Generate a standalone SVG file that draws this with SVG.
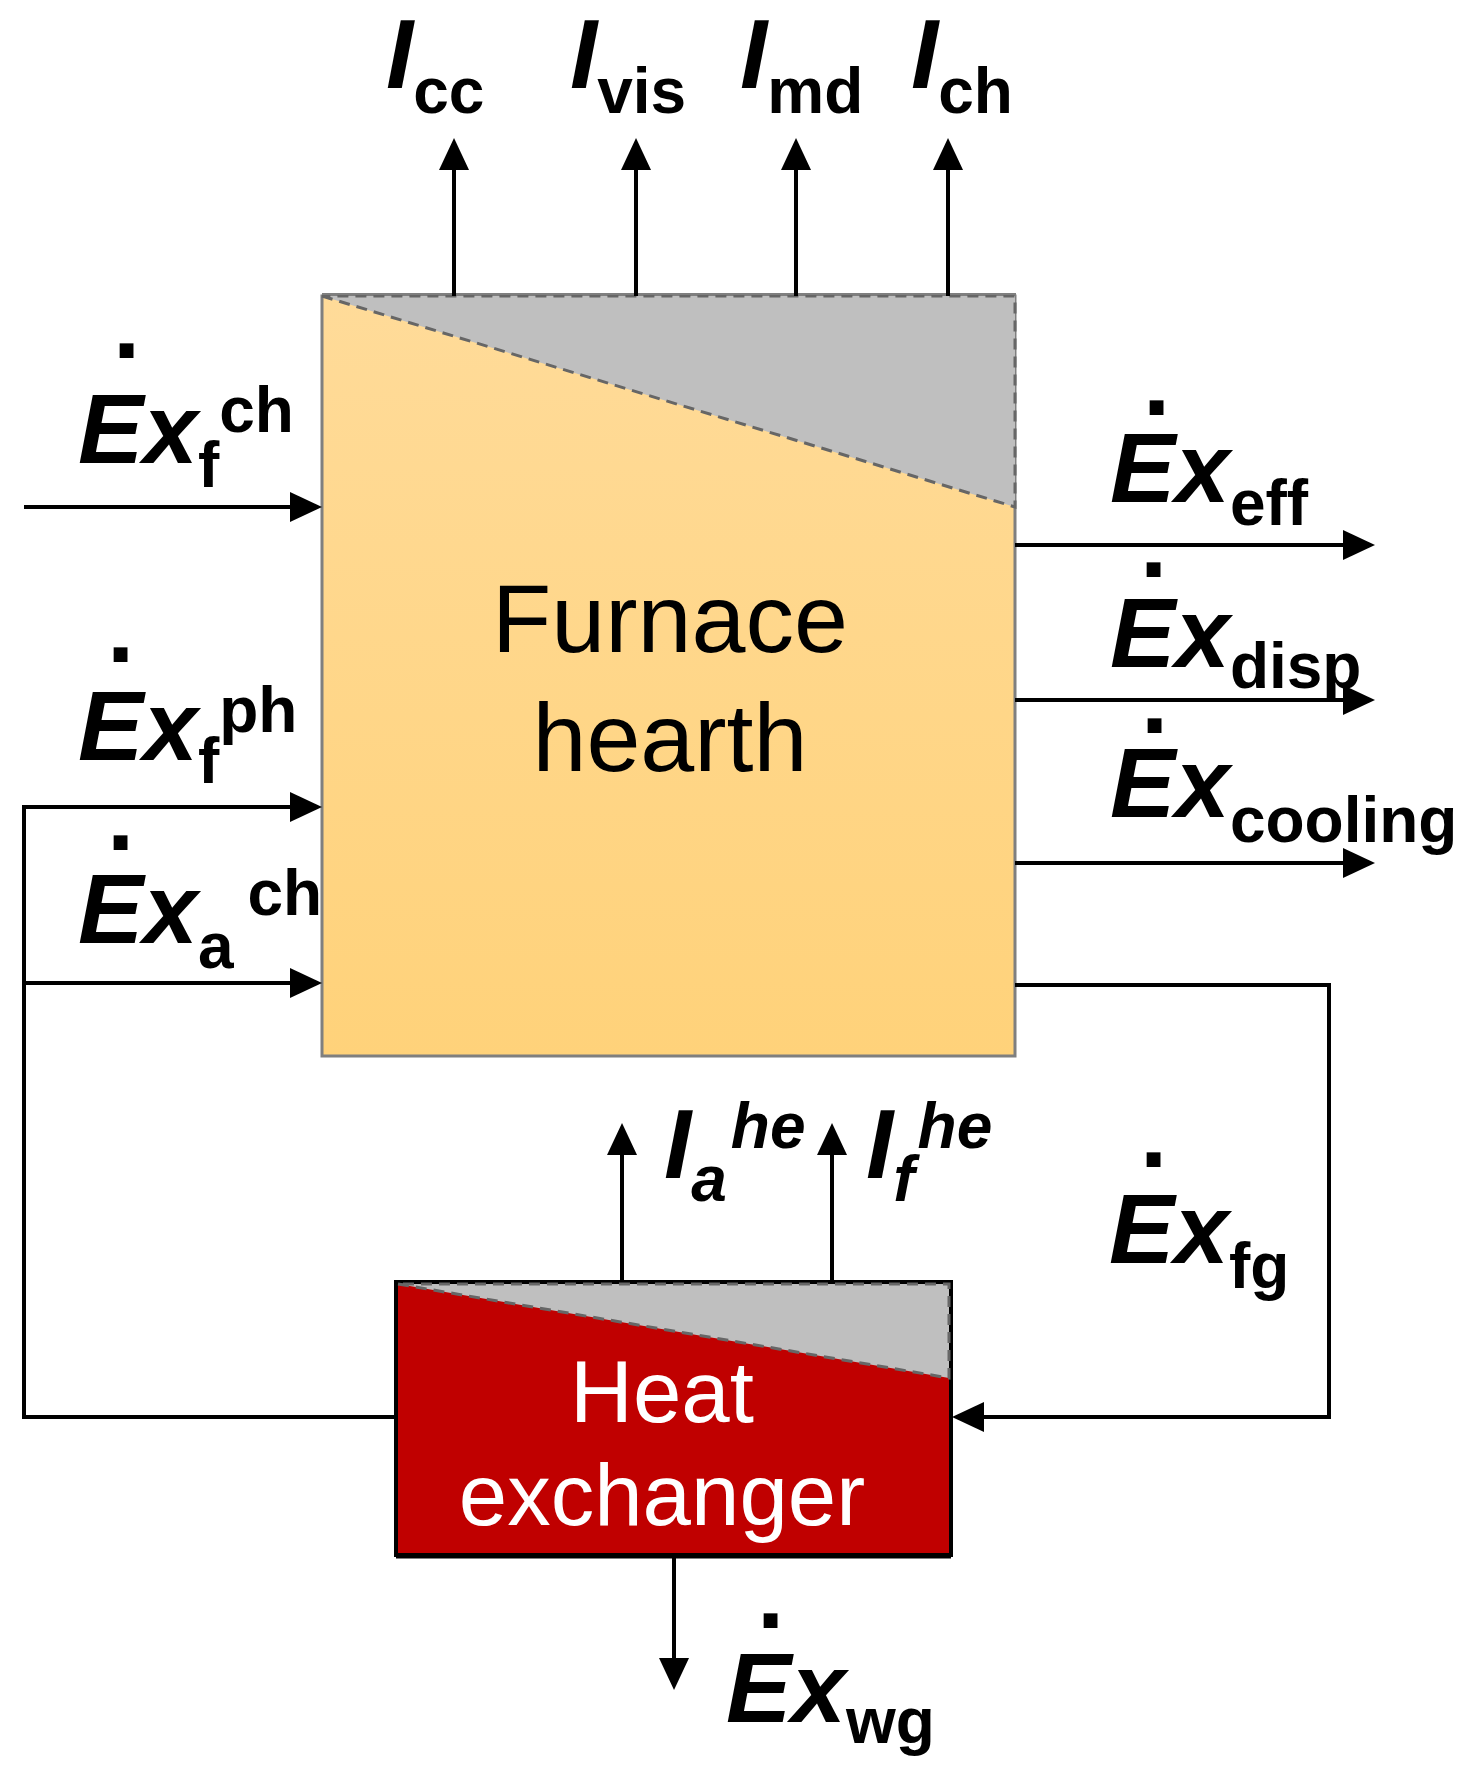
<svg xmlns="http://www.w3.org/2000/svg" width="1477" height="1782" viewBox="0 0 1477 1782">
  <defs>
    <linearGradient id="furnGrad" x1="0" y1="0" x2="0" y2="1">
      <stop offset="0" stop-color="#FFDB99"/>
      <stop offset="1" stop-color="#FFD27A"/>
    </linearGradient>
    <marker id="ah" markerUnits="userSpaceOnUse" markerWidth="32" markerHeight="30" refX="22" refY="15" orient="auto">
      <path d="M0,0 L32,15 L0,30 Z" fill="#000"/>
    </marker>
  </defs>
  <style>
    .lab { font-family: "Liberation Sans", Arial, Helvetica, sans-serif; font-weight: bold; fill: #000; }
    .big { font-size: 98px; font-style: italic; }
    .e { font-size: 98px; font-style: italic; text-anchor: start; }
    .sm { font-size: 64px; font-style: normal; }
    .smi { font-size: 64px; font-style: italic; }
    .dot { font-size: 98px; font-style: normal; text-anchor: middle; }
    .conn { fill: none; stroke: #000; stroke-width: 4; }
    .arr { marker-end: url(#ah); }
    .dash { fill: none; stroke: #666; stroke-width: 3; stroke-dasharray: 11 7; }
    .title { font-family: "Liberation Sans", Arial, Helvetica, sans-serif; text-anchor: middle; }
  </style>
  <rect width="1477" height="1782" fill="#fff"/>

  <g id="furnace">
    <rect x="322" y="296" width="693" height="760" fill="url(#furnGrad)" stroke="#7F7F7F" stroke-width="3"/>
    <polygon points="322,296 1015,296 1015,507" fill="#BFBFBF"/>
    <polyline class="dash" points="322,296 1015,507 1015,296 322,296"/>
    <line x1="322" y1="294" x2="1016" y2="294" stroke="#7F7F7F" stroke-width="2"/>
    <text class="title" x="670" y="652" font-size="97" fill="#000">Furnace</text>
    <text class="title" x="670" y="771" font-size="97" fill="#000">hearth</text>
  </g>

  <g id="heatExchanger">
    <rect x="396" y="1282" width="555" height="273" fill="#C00000" stroke="#000" stroke-width="4"/>
    <polygon points="398,1284 949,1284 949,1378" fill="#BFBFBF"/>
    <polyline class="dash" points="398,1284 949,1378 949,1284 398,1284" stroke="#555"/>
    <line x1="396" y1="1556" x2="951" y2="1556" stroke="#000" stroke-width="5"/>
    <text class="title" x="662" y="1422" font-size="87" fill="#fff">Heat</text>
    <text class="title" x="662" y="1525" font-size="87" fill="#fff">exchanger</text>
  </g>

  <g id="connectors">
    <line class="conn arr" x1="454" y1="296" x2="454" y2="148"/>
    <line class="conn arr" x1="636" y1="296" x2="636" y2="148"/>
    <line class="conn arr" x1="796" y1="296" x2="796" y2="148"/>
    <line class="conn arr" x1="948" y1="296" x2="948" y2="148"/>
    <line class="conn arr" x1="24" y1="507" x2="312" y2="507"/>
    <polyline class="conn arr" points="396,1417 24,1417 24,807 312,807"/>
    <line class="conn arr" x1="24" y1="983" x2="312" y2="983"/>
    <line class="conn arr" x1="1015" y1="545" x2="1365" y2="545"/>
    <line class="conn arr" x1="1015" y1="700" x2="1365" y2="700"/>
    <line class="conn arr" x1="1015" y1="863" x2="1365" y2="863"/>
    <polyline class="conn arr" points="1015,985 1329,985 1329,1417 962,1417"/>
    <line class="conn arr" x1="622" y1="1282" x2="622" y2="1133"/>
    <line class="conn arr" x1="832" y1="1282" x2="832" y2="1133"/>
    <line class="conn arr" x1="674" y1="1557" x2="674" y2="1680"/>
  </g>

  <g id="label-Icc"><text class="lab big" x="386" y="88">I<tspan class="sm" dy="25">cc</tspan></text></g>
  <g id="label-Ivis"><text class="lab big" x="570" y="88">I<tspan class="sm" dy="25">vis</tspan></text></g>
  <g id="label-Imd"><text class="lab big" x="740" y="88">I<tspan class="sm" dy="25">md</tspan></text></g>
  <g id="label-Ich"><text class="lab big" x="911" y="88">I<tspan class="sm" dy="25">ch</tspan></text></g>

  <g id="label-Exfch">
    <text class="lab"><tspan class="dot" x="126.5" y="358">.</tspan><tspan class="e" x="78" y="463">Ex</tspan><tspan class="sm" dy="24">f</tspan><tspan class="sm" dy="-55">ch</tspan></text>
  </g>
  <g id="label-Exfph">
    <text class="lab"><tspan class="dot" x="120.5" y="662">.</tspan><tspan class="e" x="78" y="760">Ex</tspan><tspan class="sm" dy="23">f</tspan><tspan class="sm" dy="-51">ph</tspan></text>
  </g>
  <g id="label-Exach">
    <text class="lab"><tspan class="dot" x="120.5" y="850">.</tspan><tspan class="e" x="78" y="943">Ex</tspan><tspan class="sm" dy="25">a</tspan><tspan class="sm" dx="14" dy="-53">ch</tspan></text>
  </g>
  <g id="label-Exeff">
    <text class="lab"><tspan class="dot" x="1156.5" y="415">.</tspan><tspan class="e" x="1110" y="502">Ex</tspan><tspan class="sm" dy="23">eff</tspan></text>
  </g>
  <g id="label-Exdisp">
    <text class="lab"><tspan class="dot" x="1153.5" y="577">.</tspan><tspan class="e" x="1110" y="667">Ex</tspan><tspan class="sm" dy="21">disp</tspan></text>
  </g>
  <g id="label-Excooling">
    <text class="lab"><tspan class="dot" x="1154.5" y="733">.</tspan><tspan class="e" x="1110" y="817">Ex</tspan><tspan class="sm" dy="25">cooling</tspan></text>
  </g>
  <g id="label-Exfg">
    <text class="lab"><tspan class="dot" x="1153.5" y="1167">.</tspan><tspan class="e" x="1109" y="1263">Ex</tspan><tspan class="sm" dy="25">fg</tspan></text>
  </g>
  <g id="label-Exwg">
    <text class="lab"><tspan class="dot" x="770.5" y="1628">.</tspan><tspan class="e" x="726" y="1722">Ex</tspan><tspan class="sm" dy="21">wg</tspan></text>
  </g>
  <g id="label-Iahe">
    <text class="lab big" x="664" y="1178">I<tspan class="smi" dy="23">a</tspan><tspan class="smi" dx="4" dy="-53">he</tspan></text>
  </g>
  <g id="label-Ifhe">
    <text class="lab big" x="866" y="1178">I<tspan class="smi" dy="23">f</tspan><tspan class="smi" dx="3" dy="-53">he</tspan></text>
  </g>
</svg>
